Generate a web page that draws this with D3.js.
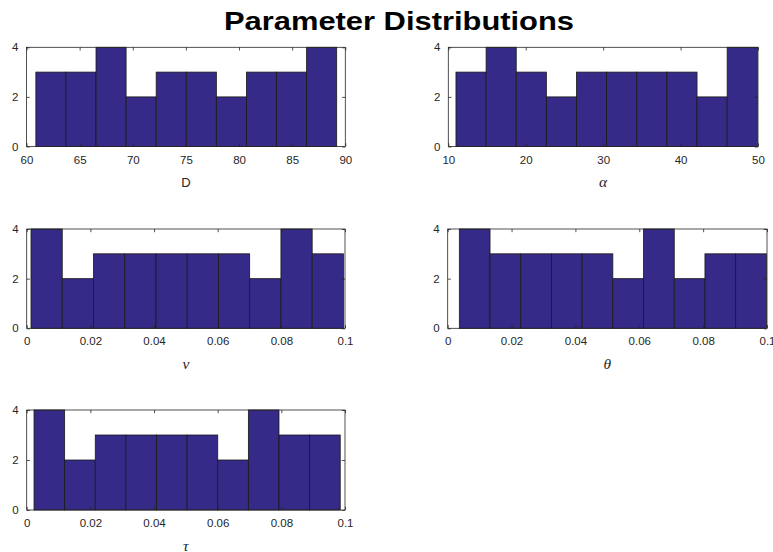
<!DOCTYPE html>
<html>
<head>
<meta charset="utf-8">
<script src="https://cdn.jsdelivr.net/npm/d3@7"></script>
<style>
  html, body { margin: 0; padding: 0; background: #fff; }
  svg { display: block; }
  .tick text { font-family: "Liberation Sans", Arial, Helvetica, sans-serif; }
</style>
</head>
<body>
<svg id="chart" width="773" height="552"></svg>
<script>
// Histogram counts per parameter (10 bins each)
const countsD     = [3, 3, 4, 2, 3, 3, 2, 3, 3, 4];
const countsAlpha = [3, 4, 3, 2, 3, 3, 3, 3, 2, 4];
const countsNu    = [4, 2, 3, 3, 3, 3, 3, 2, 4, 3];
const countsTheta = [4, 3, 3, 3, 3, 2, 4, 2, 3, 3];
const countsTau   = [4, 2, 3, 3, 3, 3, 2, 4, 3, 3];

// Sample range [min, max] covered by the bins of each parameter
const rangeD     = [60.88, 89.19];
const rangeAlpha = [10.99, 49.91];
const rangeNu    = [0.00135, 0.0995];
const rangeTheta = [0.00364, 0.0998];
const rangeTau   = [0.0023, 0.0985];

// Axis limits and tick values
const xDomainD     = [60, 90];
const xDomainAlpha = [10, 50];
const xDomainSmall = [0, 0.1];
const xTicksD      = [60, 65, 70, 75, 80, 85, 90];
const xTicksAlpha  = [10, 20, 30, 40, 50];
const xTicksSmall  = [0, 0.02, 0.04, 0.06, 0.08, 0.1];
const yDomain      = [0, 4];
const yTicks       = [0, 2, 4];

const title = "Parameter Distributions";

const panels = [
  { label: "D", greek: false, counts: countsD, range: rangeD, domain: xDomainD, ticks: xTicksD,
    box: { x0: 26.5, x1: 345.3, y0: 47.3, y1: 146.5 } },
  { label: "α", greek: true, counts: countsAlpha, range: rangeAlpha, domain: xDomainAlpha, ticks: xTicksAlpha,
    box: { x0: 448.3, x1: 758, y0: 47.3, y1: 146.5 } },
  { label: "ν", greek: true, counts: countsNu, range: rangeNu, domain: xDomainSmall, ticks: xTicksSmall,
    box: { x0: 26.7, x1: 345, y0: 229, y1: 328.3 } },
  { label: "θ", greek: true, counts: countsTheta, range: rangeTheta, domain: xDomainSmall, ticks: xTicksSmall,
    box: { x0: 447.7, x1: 767, y0: 229, y1: 328.3 } },
  { label: "τ", greek: true, counts: countsTau, range: rangeTau, domain: xDomainSmall, ticks: xTicksSmall,
    box: { x0: 26.7, x1: 345, y0: 410, y1: 510 } }
];

const svg = d3.select("#chart");
const axisColor = "#262626";
const barColor = "#352A87";
const fmt = d => String(+d.toFixed(4));

svg.append("text")
  .attr("x", 399).attr("y", 29.5)
  .attr("text-anchor", "middle")
  .attr("font-family", "'Liberation Sans', Arial, Helvetica, sans-serif")
  .attr("font-weight", "bold")
  .attr("font-size", 26.5)
  .attr("textLength", 350)
  .attr("lengthAdjust", "spacingAndGlyphs")
  .attr("fill", "#000")
  .text(title);

panels.forEach(p => {
  const b = p.box;
  const x = d3.scaleLinear().domain(p.domain).range([b.x0, b.x1]);
  const y = d3.scaleLinear().domain(yDomain).range([b.y1, b.y0]);
  const g = svg.append("g");

  // bins: equal-width split of the sample range
  const n = p.counts.length;
  const w = (p.range[1] - p.range[0]) / n;
  const bins = p.counts.map((c, i) => ({ x0: p.range[0] + i * w, x1: p.range[0] + (i + 1) * w, c }));

  g.append("rect")
    .attr("x", b.x0).attr("y", b.y0)
    .attr("width", b.x1 - b.x0).attr("height", b.y1 - b.y0)
    .attr("fill", "#fff");

  g.selectAll("rect.bar").data(bins).join("rect")
    .attr("class", "bar")
    .attr("x", d => x(d.x0))
    .attr("y", d => y(d.c))
    .attr("width", d => x(d.x1) - x(d.x0))
    .attr("height", d => y(0) - y(d.c))
    .attr("fill", barColor)
    .attr("stroke", "#1a1a1a")
    .attr("stroke-width", 0.8);

  const tickLen = 3.2;
  const styleAxis = sel => {
    sel.select(".domain").remove();
    sel.selectAll(".tick line").attr("stroke", axisColor).attr("stroke-width", 0.8);
    sel.selectAll(".tick text").attr("fill", axisColor).attr("font-size", 11.5);
  };

  // bottom axis with inward ticks
  g.append("g").attr("transform", `translate(0,${b.y1})`)
    .call(d3.axisBottom(x).tickValues(p.ticks).tickFormat(fmt).tickSize(-tickLen).tickPadding(9))
    .call(styleAxis);
  // top mirror ticks
  g.append("g").attr("transform", `translate(0,${b.y0})`)
    .call(d3.axisTop(x).tickValues(p.ticks).tickFormat("").tickSize(-tickLen))
    .call(styleAxis);
  // left axis
  g.append("g").attr("transform", `translate(${b.x0},0)`)
    .call(d3.axisLeft(y).tickValues(yTicks).tickFormat(d3.format("d")).tickSize(-tickLen).tickPadding(8))
    .call(styleAxis);
  // right mirror ticks
  g.append("g").attr("transform", `translate(${b.x1},0)`)
    .call(d3.axisRight(y).tickValues(yTicks).tickFormat("").tickSize(-tickLen))
    .call(styleAxis);

  // axes box
  g.append("rect")
    .attr("x", b.x0).attr("y", b.y0)
    .attr("width", b.x1 - b.x0).attr("height", b.y1 - b.y0)
    .attr("fill", "none")
    .attr("stroke", axisColor)
    .attr("stroke-width", 0.8);

  // x label
  const lbl = g.append("text")
    .attr("x", (b.x0 + b.x1) / 2)
    .attr("text-anchor", "middle")
    .attr("fill", axisColor)
    .text(p.label);
  if (p.greek) {
    lbl.attr("y", b.y1 + 40.5)
      .attr("font-family", "'Liberation Serif', 'Times New Roman', serif")
      .attr("font-style", "italic")
      .attr("font-size", 15.5);
  } else {
    lbl.attr("y", b.y1 + 40.5)
      .attr("font-family", "'Liberation Sans', Arial, Helvetica, sans-serif")
      .attr("font-size", 13);
  }
});
</script>
</body>
</html>
